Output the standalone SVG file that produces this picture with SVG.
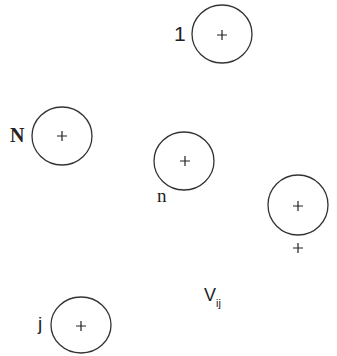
<svg xmlns="http://www.w3.org/2000/svg" width="337" height="356" viewBox="0 0 337 356">
<style>
.c{fill:none;stroke:#333;stroke-width:1.3}
.p{stroke:#222;stroke-width:1.2}
.s{font-family:"Liberation Sans",Arial,sans-serif;fill:#222}
.r{font-family:"Liberation Serif","Times New Roman",serif;fill:#222}
</style>
<rect width="337" height="356" fill="#fff"/>
<g id="node1">
<ellipse class="c" cx="222" cy="34" rx="30" ry="29"/>
<path class="p" d="M217 35h10M222 30v10"/>
<text class="s" x="174" y="41" font-size="21">1</text>
</g>
<g id="nodeN">
<ellipse class="c" cx="62" cy="136" rx="30" ry="29"/>
<path class="p" d="M57 136h10M62 131v10"/>
<text class="r" x="10" y="142" font-size="20" font-weight="bold">N</text>
</g>
<g id="noden">
<ellipse class="c" cx="184" cy="161" rx="30" ry="29"/>
<path class="p" d="M180 161h10M185 156v10"/>
<text class="r" x="157" y="202" font-size="19">n</text>
</g>
<g id="noderight">
<ellipse class="c" cx="298" cy="205" rx="30" ry="30"/>
<path class="p" d="M293 206h10M298 201v10"/>
<path class="p" d="M293 248h10M298 243v10"/>
</g>
<g id="nodej">
<ellipse class="c" cx="81" cy="325" rx="30" ry="28"/>
<path class="p" d="M76 326h10M81 321v10"/>
<text class="s" x="38" y="330" font-size="19">j</text>
</g>
<g id="connectors"></g>
<text class="s" x="204" y="301" font-size="18">V<tspan font-size="11" dy="6">ij</tspan></text>
</svg>
